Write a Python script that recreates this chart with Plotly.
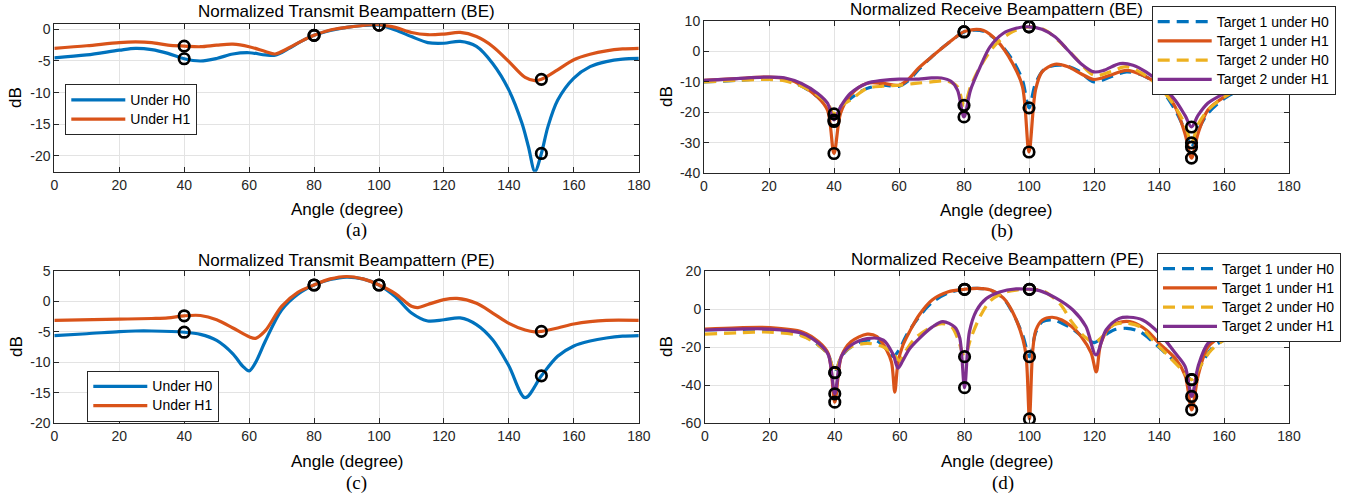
import plotly.graph_objects as go

W, H = 1363, 497

# ---------------- data ----------------
X_TICKS = [0, 20, 40, 60, 80, 100, 120, 140, 160, 180]
X_TICKTEXT = ["0", "20", "40", "60", "80", "100", "120", "140", "160", "180"]
YA_TICKS = [0, -5, -10, -15, -20]
YA_TEXT = ["0", "-5", "-10", "-15", "-20"]
YB_TICKS = [10, 0, -10, -20, -30, -40]
YB_TEXT = ["10", "0", "-10", "-20", "-30", "-40"]
YC_TICKS = [5, 0, -5, -10, -15, -20]
YC_TEXT = ["5", "0", "-5", "-10", "-15", "-20"]
YD_TICKS = [20, 0, -20, -40, -60]
YD_TEXT = ["20", "0", "-20", "-40", "-60"]

MARK_ANG = [40, 80, 100, 150]

# (a) transmit BE
a_ang_h0 = [0, 10, 20, 25, 30, 35, 40, 45, 50, 55, 60, 65, 68, 72, 76, 80, 85, 90, 95, 100, 105, 110, 115, 120,
            125, 130, 135, 140, 144, 146, 148, 150, 152, 155, 160, 165, 170, 175, 180]
a_h0 = [-4.5, -4.05, -3.3, -3.0, -3.2, -3.8, -4.65, -5.0, -4.6, -3.9, -3.7, -4.05, -4.1, -3.1, -1.9, -0.95, -0.2,
        0.3, 0.6, 0.65, -0.1, -1.15, -2.1, -2.2, -1.9, -2.7, -5.4, -9.6, -14.8, -18.5, -22.45, -19.6, -15.4, -11.2,
        -7.7, -5.9, -5.1, -4.7, -4.6]
a_ang_h1 = [0, 10, 20, 25, 30, 35, 40, 45, 50, 55, 60, 65, 68, 72, 76, 80, 85, 90, 95, 99, 105, 110, 115, 120,
            125, 130, 135, 140, 145, 148, 150, 155, 160, 165, 170, 175, 180]
a_h1 = [-3.0, -2.6, -2.1, -2.0, -2.1, -2.5, -2.65, -2.75, -2.5, -2.35, -2.75, -3.5, -3.9, -3.0, -1.9, -0.95, -0.1,
        0.3, 0.6, 0.79, 0.3, -0.5, -0.85, -0.75, -0.5, -1.15, -2.7, -5.1, -7.6, -8.1, -7.9, -6.4, -4.8, -3.95,
        -3.4, -3.1, -3.0]
a_mk_h0 = [-4.65, -0.95, 0.65, -19.6]
a_mk_h1 = [-2.65, -0.95, 0.65, -7.9]

# (b) receive BE
b_ang_t1h0 = [0, 10, 20, 25, 30, 35, 38, 40, 42, 45, 50, 55, 60, 63, 66, 70, 75, 80, 83, 86, 90, 95, 98, 100, 102,
              105, 110, 115, 120, 125, 130, 135, 140, 145, 148, 150, 152, 155, 160, 165, 170, 180]
b_t1h0 = [-10, -9.5, -8.9, -9.3, -11.4, -15, -18.5, -23, -18.5, -15.5, -12.2, -11.1, -11.4, -9.5, -6, -1.8, 2.6,
          6.4, 7.0, 6.6, 3.7, -2.9, -9.5, -18.5, -10.5, -5.6, -4.5, -6.2, -10, -8.4, -6.7, -7.8, -11.6, -19.3, -26,
          -31.4, -26, -20.4, -15.5, -12.7, -11.1, -10]
b_ang_t1h1 = [0, 10, 20, 25, 30, 35, 38, 40, 42, 45, 50, 55, 60, 63, 66, 70, 75, 80, 83, 86, 90, 95, 98, 100, 102,
              104, 108, 112, 116, 120, 125, 130, 135, 140, 145, 148, 150, 152, 155, 160, 165, 170, 175, 180]
b_t1h1 = [-9.5, -8.9, -8.4, -8.9, -11.1, -15, -19.3, -33.5, -20.4, -14.4, -10.5, -10.5, -11.1, -9, -5.5, -1.8, 2.6,
          6.5, 7.2, 6.9, 3.7, -4, -11.6, -33, -12.7, -6.7, -4.2, -5, -7.3, -9.2, -7.8, -6.2, -7.8, -11.1, -18.2,
          -27, -35, -27, -19.3, -15, -12.2, -10.5, -9.5, -8.9]
b_ang_t2h0 = [0, 10, 20, 25, 30, 35, 38, 40, 42, 45, 50, 55, 60, 65, 70, 75, 78, 80, 82, 85, 90, 95, 100, 105, 110,
              115, 120, 125, 130, 135, 140, 145, 148, 150, 152, 155, 160, 165, 170, 180]
b_t2h0 = [-10, -9.5, -9.2, -9.7, -11.4, -14.4, -17, -20.5, -18, -16, -12.2, -11.4, -11.1, -10.5, -10, -9.7, -11.6,
          -17.7, -11.6, -5, 2.6, 6.5, 8.1, 7, 2.6, -2.9, -7.8, -6.7, -5, -7.3, -11.6, -18.2, -24, -30, -24, -19.3,
          -15, -12.2, -11.1, -10]
b_ang_t2h1 = [0, 10, 20, 25, 30, 35, 38, 40, 42, 45, 50, 55, 60, 65, 70, 73, 76, 78, 80, 82, 85, 88, 92, 96, 100,
              104, 108, 112, 116, 120, 123, 128, 132, 136, 140, 145, 148, 150, 152, 155, 160, 165, 170, 175, 180]
b_t2h1 = [-9.5, -8.9, -8.4, -8.7, -10.5, -13.8, -17, -22.5, -18.2, -13.8, -10.5, -9.5, -9.1, -9.1, -8.7, -8.7,
          -9.8, -12.7, -21.5, -12.7, -5, 1.5, 5.9, 7.6, 8.1, 7.3, 4.8, 0.4, -4, -6.7, -6.2, -4, -4.5, -6.7, -10,
          -16, -21, -24.8, -21, -17, -13.8, -11.1, -10, -9.5, -9]
b_mk_t1h0 = [-23, 6.4, -18.5, -31.4]
b_mk_t1h1 = [-33.5, 6.5, -33, -35]
b_mk_t2h0 = [-20.5, -17.7, 8.1, -30]
b_mk_t2h1 = [-22.5, -21.5, 8.1, -24.8]

# (c) transmit PE
c_ang_h0 = [0, 10, 20, 25, 30, 40, 45, 50, 55, 58, 60, 62, 65, 70, 75, 80, 85, 90, 95, 100, 105, 110, 115, 120,
            125, 130, 135, 140, 145, 150, 155, 160, 165, 170, 175, 180]
c_h0 = [-5.6, -5.3, -4.95, -4.85, -4.85, -5.05, -5.4, -6.4, -8.6, -10.6, -11.4, -10.0, -6.5, -1.4, 1.2, 2.7, 3.6,
        4.0, 3.7, 2.7, 0.8, -1.9, -3.2, -3.0, -2.7, -3.8, -6.3, -10.6, -15.8, -12.2, -9.0, -7.3, -6.5, -6.0, -5.7,
        -5.6]
c_ang_h1 = [0, 20, 30, 35, 40, 45, 50, 55, 60, 62, 65, 70, 75, 80, 85, 90, 95, 100, 105, 110, 112, 115, 120, 124,
            130, 135, 140, 145, 148, 150, 155, 160, 165, 170, 180]
c_h1 = [-3.1, -2.9, -2.8, -2.7, -2.35, -2.3, -3.0, -4.35, -5.8, -6.05, -4.8, -0.8, 1.5, 2.7, 3.7, 4.1, 3.7, 2.7,
        1.3, -0.8, -1.0, -0.5, 0.3, 0.5, -0.3, -1.9, -3.6, -4.7, -5.0, -4.9, -4.35, -3.7, -3.3, -3.1, -3.1]
c_mk_h0 = [-5.05, 2.7, 2.7, -12.2]
c_mk_h1 = [-2.35, 2.7, 2.7, -4.9]

# (d) receive PE
d_ang_t1h0 = [0, 10, 20, 30, 35, 38, 40, 42, 45, 50, 53, 56, 58, 60, 62, 66, 70, 75, 80, 84, 88, 92, 95, 98, 100,
              102, 104, 107, 110, 113, 117, 120, 123, 126, 130, 134, 138, 142, 147, 150, 153, 156, 160, 165, 170, 180]
d_t1h0 = [-11, -10.7, -10.7, -13.7, -19, -24, -33.4, -25, -19.9, -16.3, -16.7, -21, -25, -21, -14, -4, 3.5, 8.5,
          10.4, 10.9, 10.0, 5.5, -2.5, -14, -25, -12, -6.6, -5.7, -7.4, -10.1, -15.3, -17.6, -14.1, -11, -10.1,
          -11.9, -17.1, -23.2, -31.1, -37.1, -29, -21, -16.3, -14.2, -13.2, -12.5]
d_ang_t1h1 = [0, 10, 20, 30, 35, 38, 40, 42, 45, 50, 53, 56, 57.5, 58.5, 59.5, 61, 63, 66, 70, 75, 80, 84, 88, 92,
              95, 98, 99, 100, 101, 102, 104, 107, 110, 113, 116, 119, 120.6, 122, 125, 129, 132, 136, 140, 145, 148,
              150, 152, 155, 160, 165, 170, 180]
d_t1h1 = [-10.5, -9.8, -9.7, -12, -17.2, -23.4, -48.9, -25, -17.2, -13.2, -14.5, -21.6, -28, -43.6, -28, -19, -12,
          -3.1, 4.8, 9.1, 10.4, 10.9, 10.0, 5.7, -2.2, -16, -25, -57.7, -22, -11, -5.7, -4.3, -5.7, -9.2, -14.5,
          -23, -33, -18, -9.2, -6.6, -7.1, -11, -18, -26, -35, -52.9, -35, -20, -13.7, -11, -9.7, -9]
d_ang_t2h0 = [0, 10, 20, 30, 35, 38, 40, 42, 45, 50, 55, 58, 60, 62, 65, 70, 73, 76, 78, 80, 82, 85, 88, 92, 96,
              100, 104, 107, 110, 113, 117, 120, 123, 126, 130, 134, 138, 142, 147, 150, 153, 156, 160, 165, 170, 180]
d_t2h0 = [-13.2, -12.5, -12.1, -14.2, -19, -24, -33.4, -25, -19.9, -18, -19.9, -23.4, -27, -21.6, -15, -9.3, -7.6,
          -9.3, -16, -25, -15, -3.2, 4.4, 8.6, 10, 10.4, 9.7, 6.5, 1.5, -6.6, -14.5, -17.6, -13.6, -8.3, -7.4, -9.2,
          -16.2, -23.2, -32, -37.1, -29, -21.6, -16.3, -13.7, -12.8, -12.5]
d_ang_t2h1 = [0, 10, 20, 30, 35, 38, 40, 42, 45, 50, 55, 58, 59.5, 61, 63, 66, 70, 73.3, 77, 78.5, 80, 81.5, 83.6,
              86.7, 90.8, 95.9, 100, 103.1, 108.2, 113.4, 117.4, 120.5, 123.6, 127.7, 130.8, 134.9, 140, 145, 148,
              150, 152, 155, 160, 165, 180]
d_t2h1 = [-11, -10.5, -10.5, -12.8, -18, -24, -44.5, -25, -19, -15.5, -16.3, -24, -31, -27, -21, -15.5, -9.5, -6.6,
          -9.5, -15, -41.3, -12, -1, 5.5, 9.0, 10.6, 10.4, 9.7, 5.7, -0.5, -9.2, -24.1, -11, -4.9, -4.3, -5.7,
          -12.7, -23.2, -30.2, -45.9, -30, -18, -13, -10.5, -9.3]
d_mk_t1h0 = [-33.4, 10.4, -25, -37.1]
d_mk_t1h1 = [-48.9, 10.4, -57.7, -52.9]
d_mk_t2h0 = [-33.4, -25, 10.4, -37.1]
d_mk_t2h1 = [-44.5, -41.3, 10.4, -45.9]

# ---------------- style ----------------
BLUE, ORANGE, YELLOW, PURPLE = "#0072BD", "#D95319", "#EDB120", "#7E2F8E"
LW = 3.2
DASH = "12px,7px"
FONT = "Liberation Sans, Arial, sans-serif"
AX_COL = "#262626"
LEG_TXT = 14


def X(v):
    return v / W


def Y(v):
    return 1 - v / H


fig = go.Figure()


def line(xs, ys, color, name, ax, leg, dash="solid"):
    fig.add_trace(go.Scatter(
        x=xs, y=ys, mode="lines",
        name="<span style='font-size:%dpx'>%s</span>" % (LEG_TXT, name),
        line=dict(color=color, width=LW, dash=dash, shape="spline", smoothing=0.9),
        xaxis="x" + ax, yaxis="y" + ax, legend=leg, showlegend=True))


def marks(ys, ax):
    fig.add_trace(go.Scatter(
        x=MARK_ANG, y=ys, mode="markers", showlegend=False,
        marker=dict(symbol="circle-open", size=10.5, color="black", line=dict(color="black", width=2.7)),
        xaxis="x" + ax, yaxis="y" + ax))


# (a)
line(a_ang_h0, a_h0, BLUE, "Under H0", "", "legend")
line(a_ang_h1, a_h1, ORANGE, "Under H1", "", "legend")
marks(a_mk_h0, "")
marks(a_mk_h1, "")
# (b)
line(b_ang_t1h0, b_t1h0, BLUE, "Target 1 under H0", "2", "legend2", DASH)
line(b_ang_t1h1, b_t1h1, ORANGE, "Target 1 under H1", "2", "legend2")
line(b_ang_t2h0, b_t2h0, YELLOW, "Target 2 under H0", "2", "legend2", DASH)
line(b_ang_t2h1, b_t2h1, PURPLE, "Target 2 under H1", "2", "legend2")
for m in (b_mk_t1h0, b_mk_t1h1, b_mk_t2h0, b_mk_t2h1):
    marks(m, "2")
# (c)
line(c_ang_h0, c_h0, BLUE, "Under H0", "3", "legend3")
line(c_ang_h1, c_h1, ORANGE, "Under H1", "3", "legend3")
marks(c_mk_h0, "3")
marks(c_mk_h1, "3")
# (d)
line(d_ang_t1h0, d_t1h0, BLUE, "Target 1 under H0", "4", "legend4", DASH)
line(d_ang_t1h1, d_t1h1, ORANGE, "Target 1 under H1", "4", "legend4")
line(d_ang_t2h0, d_t2h0, YELLOW, "Target 2 under H0", "4", "legend4", DASH)
line(d_ang_t2h1, d_t2h1, PURPLE, "Target 2 under H1", "4", "legend4")
for m in (d_mk_t1h0, d_mk_t1h1, d_mk_t2h0, d_mk_t2h1):
    marks(m, "4")


def xax(x0, x1, anchor):
    return dict(domain=[X(x0), X(x1)], range=[0, 180], anchor=anchor,
                tickmode="array", tickvals=X_TICKS, ticktext=X_TICKTEXT,
                showline=True, linecolor=AX_COL, linewidth=1, mirror="ticks",
                ticks="inside", ticklen=5, tickcolor=AX_COL, tickwidth=1,
                showgrid=True, gridcolor="#e3e3e3", gridwidth=1, zeroline=False,
                tickfont=dict(family=FONT, size=14, color=AX_COL))


def yax(y0, y1, rng, tv, tt, anchor):
    return dict(domain=[Y(y1), Y(y0)], range=rng, anchor=anchor,
                tickmode="array", tickvals=tv, ticktext=tt,
                showline=True, linecolor=AX_COL, linewidth=1, mirror="ticks",
                ticks="inside", ticklen=5, tickcolor=AX_COL, tickwidth=1,
                showgrid=True, gridcolor="#e3e3e3", gridwidth=1, zeroline=False,
                tickfont=dict(family=FONT, size=14, color=AX_COL))


def legend(x, y):
    return dict(x=X(x), y=Y(y), xanchor="left", yanchor="top",
                bgcolor="white", bordercolor=AX_COL, borderwidth=1,
                font=dict(family=FONT, size=12.5, color="black"),
                itemwidth=54, tracegroupgap=0, itemclick=False)


ann = []


def text(x, y, s, size=17, family=FONT, angle=0):
    ann.append(dict(x=X(x), y=Y(y), xref="paper", yref="paper", text=s, showarrow=False,
                    xanchor="center", yanchor="middle", textangle=angle,
                    font=dict(family=family, size=size, color="black")))


SERIF = "Liberation Serif, Times New Roman, serif"
# titles
text(346.5, 11, "Normalized Transmit Beampattern (BE)")
text(996.5, 9, "Normalized Receive Beampattern (BE)")
text(346.5, 260, "Normalized Transmit Beampattern (PE)")
text(997, 259, "Normalized Receive Beampattern (PE)")
# x labels
text(346.5, 209, "Angle (degree)")
text(996.5, 210, "Angle (degree)")
text(346.5, 461, "Angle (degree)")
text(997, 461, "Angle (degree)")
# y labels
for (xx, yy) in ((16, 98), (666, 97), (16, 347), (666, 347)):
    text(xx, yy, "dB", angle=-90)
# panel letters
text(356, 230, "(a)", size=19, family=SERIF)
text(1002, 231, "(b)", size=19, family=SERIF)
text(356, 483, "(c)", size=19, family=SERIF)
text(1003, 483, "(d)", size=19, family=SERIF)

fig.update_layout(
    width=W, height=H, autosize=False,
    margin=dict(l=0, r=0, t=0, b=0, autoexpand=False),
    paper_bgcolor="white", plot_bgcolor="white",
    xaxis=xax(54.3, 638.8, "y"), yaxis=yax(24.3, 171.7, [-22.48, 0.79], YA_TICKS, YA_TEXT, "x"),
    xaxis2=xax(704, 1289, "y2"), yaxis2=yax(21, 173.3, [-40, 10], YB_TICKS, YB_TEXT, "x2"),
    xaxis3=xax(54.3, 638.8, "y3"), yaxis3=yax(271, 423.3, [-20, 5], YC_TICKS, YC_TEXT, "x3"),
    xaxis4=xax(705, 1289, "y4"), yaxis4=yax(271, 423.3, [-60, 20], YD_TICKS, YD_TEXT, "x4"),
    legend=legend(65.3, 84.3),
    legend2=legend(1151.7, 6),
    legend3=legend(87.3, 370.7),
    legend4=legend(1157, 253),
    annotations=ann,
    showlegend=True,
)

fig.write_html("out.html", config={"displayModeBar": False, "staticPlot": True},
               post_script="document.body.style.margin='0';document.body.style.overflow='hidden';")
